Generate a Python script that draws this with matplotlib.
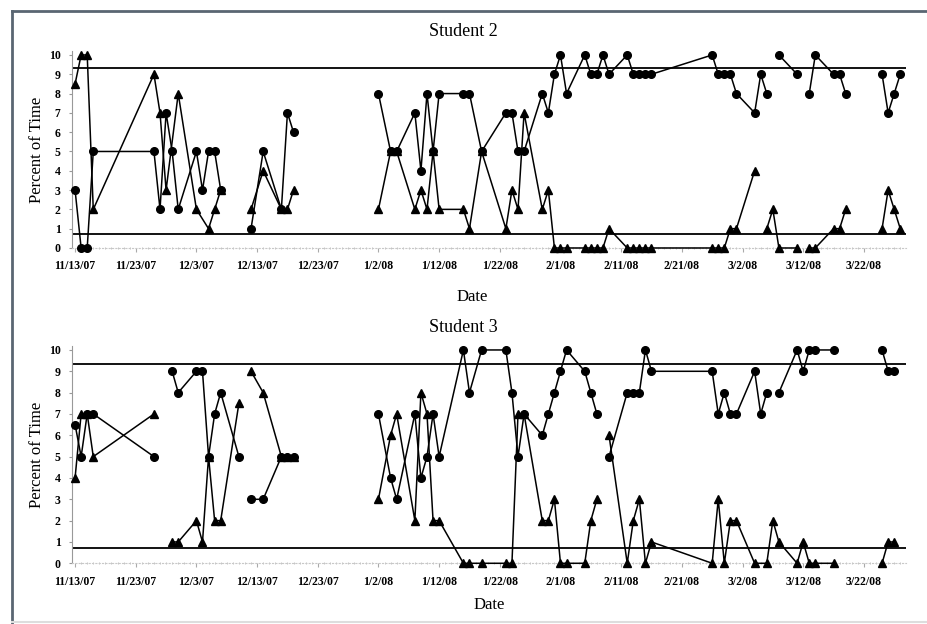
import matplotlib
matplotlib.use("Agg")
import matplotlib.pyplot as plt
import matplotlib.dates as mdates
from matplotlib.ticker import FuncFormatter, MultipleLocator
from matplotlib.lines import Line2D
import numpy as np
import pandas as pd

nan = np.nan

# Student 2 - circles
s2_circle_dates = ["11/13/07", "11/14/07", "11/15/07", "11/16/07", "11/26/07", "11/27/07", "11/28/07",
                   "11/29/07", "11/30/07", "12/3/07", "12/4/07", "12/5/07", "12/6/07", "12/7/07", "12/9/07",
                   "12/12/07", "12/14/07", "12/17/07", "12/18/07", "12/19/07", "12/25/07",
                   "1/2/08", "1/4/08", "1/5/08", "1/8/08", "1/9/08", "1/10/08", "1/11/08", "1/12/08",
                   "1/16/08", "1/17/08", "1/19/08", "1/23/08", "1/24/08", "1/25/08", "1/26/08", "1/29/08",
                   "1/30/08", "1/31/08", "2/1/08", "2/2/08", "2/5/08", "2/6/08", "2/7/08", "2/8/08", "2/9/08",
                   "2/12/08", "2/13/08", "2/14/08", "2/15/08", "2/16/08", "2/26/08", "2/27/08", "2/28/08",
                   "2/29/08", "3/1/08", "3/4/08", "3/5/08", "3/6/08", "3/7/08", "3/8/08", "3/11/08", "3/12/08",
                   "3/13/08", "3/14/08", "3/17/08", "3/18/08", "3/19/08", "3/22/08",
                   "3/25/08", "3/26/08", "3/27/08", "3/28/08"]
s2_circle_vals = [3, 0, 0, 5, 5, 2, 7,
                  5, 2, 5, 3, 5, 5, 3, nan,
                  1, 5, 2, 7, 6, nan,
                  8, 5, 5, 7, 4, 8, 5, 8,
                  8, 8, 5, 7, 7, 5, 5, 8,
                  7, 9, 10, 8, 10, 9, 9, 10, 9,
                  10, 9, 9, 9, 9, 10, 9, 9,
                  9, 8, 7, 9, 8, nan, 10, 9, nan,
                  8, 10, 9, 9, 8, nan,
                  9, 7, 8, 9]

# Student 2 - triangles
s2_tri_dates = ["11/13/07", "11/14/07", "11/15/07", "11/16/07", "11/26/07", "11/27/07", "11/28/07",
                "11/30/07", "12/3/07", "12/5/07", "12/6/07", "12/7/07", "12/9/07",
                "12/12/07", "12/14/07", "12/17/07", "12/18/07", "12/19/07", "12/25/07",
                "1/2/08", "1/4/08", "1/5/08", "1/8/08", "1/9/08", "1/10/08", "1/11/08", "1/12/08",
                "1/16/08", "1/17/08", "1/19/08", "1/23/08", "1/24/08", "1/25/08", "1/26/08", "1/29/08",
                "1/30/08", "1/31/08", "2/1/08", "2/2/08", "2/5/08", "2/6/08", "2/7/08", "2/8/08", "2/9/08",
                "2/12/08", "2/13/08", "2/14/08", "2/15/08", "2/16/08", "2/26/08", "2/27/08", "2/28/08",
                "2/29/08", "3/1/08", "3/4/08", "3/5/08", "3/6/08", "3/7/08", "3/8/08", "3/11/08", "3/12/08",
                "3/13/08", "3/14/08", "3/17/08", "3/18/08", "3/19/08", "3/22/08",
                "3/25/08", "3/26/08", "3/27/08", "3/28/08"]
s2_tri_vals = [8.5, 10, 10, 2, 9, 7, 3,
               8, 2, 1, 2, 3, nan,
               2, 4, 2, 2, 3, nan,
               2, 5, 5, 2, 3, 2, 5, 2,
               2, 1, 5, 1, 3, 2, 7, 2,
               3, 0, 0, 0, 0, 0, 0, 0, 1,
               0, 0, 0, 0, 0, 0, 0, 0,
               1, 1, 4, nan, 1, 2, 0, 0, nan,
               0, 0, 1, 1, 2, nan,
               1, 3, 2, 1]

# Student 3 - circles
s3_circle_dates = ["11/13/07", "11/14/07", "11/15/07", "11/16/07", "11/26/07", "11/27/07",
                   "11/29/07", "11/30/07", "12/3/07", "12/4/07", "12/5/07", "12/6/07", "12/7/07", "12/10/07",
                   "12/11/07", "12/12/07", "12/14/07", "12/17/07", "12/18/07", "12/19/07", "12/25/07",
                   "1/2/08", "1/4/08", "1/5/08", "1/8/08", "1/9/08", "1/10/08", "1/11/08", "1/12/08",
                   "1/16/08", "1/17/08", "1/19/08", "1/23/08", "1/24/08", "1/25/08", "1/26/08", "1/29/08",
                   "1/30/08", "1/31/08", "2/1/08", "2/2/08", "2/5/08", "2/6/08", "2/7/08", "2/8/08",
                   "2/9/08", "2/12/08", "2/13/08", "2/14/08", "2/15/08", "2/16/08", "2/26/08", "2/27/08",
                   "2/28/08", "2/29/08", "3/1/08", "3/4/08", "3/5/08", "3/6/08", "3/7/08",
                   "3/8/08", "3/11/08", "3/12/08", "3/13/08", "3/14/08", "3/17/08", "3/21/08",
                   "3/25/08", "3/26/08", "3/27/08"]
s3_circle_vals = [6.5, 5, 7, 7, 5, nan,
                  9, 8, 9, 9, 5, 7, 8, 5,
                  nan, 3, 3, 5, 5, 5, nan,
                  7, 4, 3, 7, 4, 5, 7, 5,
                  10, 8, 10, 10, 8, 5, 7, 6,
                  7, 8, 9, 10, 9, 8, 7, nan,
                  5, 8, 8, 8, 10, 9, 9, 7,
                  8, 7, 7, 9, 7, 8, nan,
                  8, 10, 9, 10, 10, 10, nan,
                  10, 9, 9]

# Student 3 - triangles
s3_tri_dates = ["11/13/07", "11/14/07", "11/15/07", "11/16/07", "11/26/07", "11/27/07",
                "11/29/07", "11/30/07", "12/3/07", "12/4/07", "12/5/07", "12/6/07", "12/7/07", "12/10/07",
                "12/11/07", "12/12/07", "12/14/07", "12/17/07", "12/18/07", "12/19/07", "12/25/07",
                "1/2/08", "1/4/08", "1/5/08", "1/8/08", "1/9/08", "1/10/08", "1/11/08", "1/12/08",
                "1/16/08", "1/17/08", "1/19/08", "1/23/08", "1/24/08", "1/25/08", "1/26/08", "1/29/08",
                "1/30/08", "1/31/08", "2/1/08", "2/2/08", "2/5/08", "2/6/08", "2/7/08", "2/8/08",
                "2/9/08", "2/12/08", "2/13/08", "2/14/08", "2/15/08", "2/16/08", "2/26/08", "2/27/08",
                "2/28/08", "2/29/08", "3/1/08", "3/4/08", "3/6/08", "3/7/08", "3/8/08", "3/11/08",
                "3/12/08", "3/13/08", "3/14/08", "3/17/08", "3/21/08",
                "3/25/08", "3/26/08", "3/27/08"]
s3_tri_vals = [4, 7, 7, 5, 7, nan,
               1, 1, 2, 1, 5, 2, 2, 7.5,
               nan, 9, 8, 5, 5, 5, nan,
               3, 6, 7, 2, 8, 7, 2, 2,
               0, 0, 0, 0, 0, 7, 7, 2,
               2, 3, 0, 0, 0, 2, 3, nan,
               6, 0, 2, 3, 0, 1, 0, 3,
               0, 2, 2, 0, 0, 2, 1, 0,
               1, 0, 0, 0, nan,
               0, 1, 1]

criterion_high = 9.35
criterion_low = 0.72
tick_start = "11/13/07"
tick_end = "3/22/08"

plt.rcParams['font.family'] = ['Liberation Serif', 'DejaVu Serif']


def to_dates(lst):
	return pd.to_datetime(lst, format="%m/%d/%y")


def fmt_date(x, pos):
	d = mdates.num2date(x)
	return '%d/%d/%s' % (d.month, d.day, d.strftime('%y'))


def draw_panel(ax, c_dates, c_vals, t_dates, t_vals):
	start = to_dates([tick_start])[0]
	ax.axhline(criterion_high, color='black', lw=1.3, zorder=1)
	ax.axhline(criterion_low, color='black', lw=1.3, zorder=1)
	ax.plot(to_dates(t_dates), t_vals, color='black', lw=1.1, marker='^', ms=6,
		clip_on=False, zorder=3)
	ax.plot(to_dates(c_dates), c_vals, color='black', lw=1.1, marker='o', ms=5.5,
		clip_on=False, zorder=3)
	ax.set_xlim(start - pd.Timedelta(days=0.55), start + pd.Timedelta(days=136.9))
	ax.set_ylim(0, 10.2)
	ax.set_xticks(pd.date_range(start, to_dates([tick_end])[0], freq='10D'))
	ax.xaxis.set_major_formatter(FuncFormatter(fmt_date))
	ax.xaxis.set_minor_locator(mdates.DayLocator())
	ax.set_yticks(range(0, 11))
	ax.tick_params(axis='x', which='major', length=3, color='#aaaaaa', pad=6, labelsize=8.5)
	ax.tick_params(axis='x', which='minor', length=2, color='#bbbbbb', direction='inout')
	ax.tick_params(axis='y', length=2, color='#999999', pad=6, labelsize=8.5)
	for lab in ax.get_xticklabels() + ax.get_yticklabels():
		lab.set_fontweight('bold')
	for s in ['top', 'right']:
		ax.spines[s].set_visible(False)
	ax.spines['bottom'].set_color('#c8c8c8')
	ax.spines['bottom'].set_linestyle((0, (1, 2)))
	ax.spines['left'].set_color('#999999')
	ax.spines['left'].set_linewidth(0.8)


fig = plt.figure(figsize=(9.28, 6.24), dpi=100)
ax1 = fig.add_axes([0.0773, 0.6026, 0.8987, 0.3155])
ax2 = fig.add_axes([0.0773, 0.0973, 0.8987, 0.3487])
draw_panel(ax1, s2_circle_dates, s2_circle_vals, s2_tri_dates, s2_tri_vals)
draw_panel(ax2, s3_circle_dates, s3_circle_vals, s3_tri_dates, s3_tri_vals)

fig.text(463/928, 1-32/624, 'Student 2', ha='center', va='center', fontsize=13)
fig.text(463/928, 1-328/624, 'Student 3', ha='center', va='center', fontsize=13)
fig.text(37/928, 1-150/624, 'Percent of Time', rotation=90, ha='center', va='center', fontsize=12)
fig.text(37/928, 1-455/624, 'Percent of Time', rotation=90, ha='center', va='center', fontsize=12)
fig.text(472/928, 1-297/624, 'Date', ha='center', va='center', fontsize=12)
fig.text(489/928, 1-605/624, 'Date', ha='center', va='center', fontsize=12)

# frame around the figure (scan border)
fig.add_artist(Line2D([12/928, 12/928], [0, 1-10.7/624], color='#5a6672', lw=2, transform=fig.transFigure))
fig.add_artist(Line2D([12/928, 1], [1-10.7/624, 1-10.7/624], color='#5a6672', lw=2, transform=fig.transFigure))
fig.add_artist(Line2D([12/928, 1], [1-621.5/624, 1-621.5/624], color='#dddddd', lw=1.5, transform=fig.transFigure))

fig.savefig('out.png', dpi=100)
